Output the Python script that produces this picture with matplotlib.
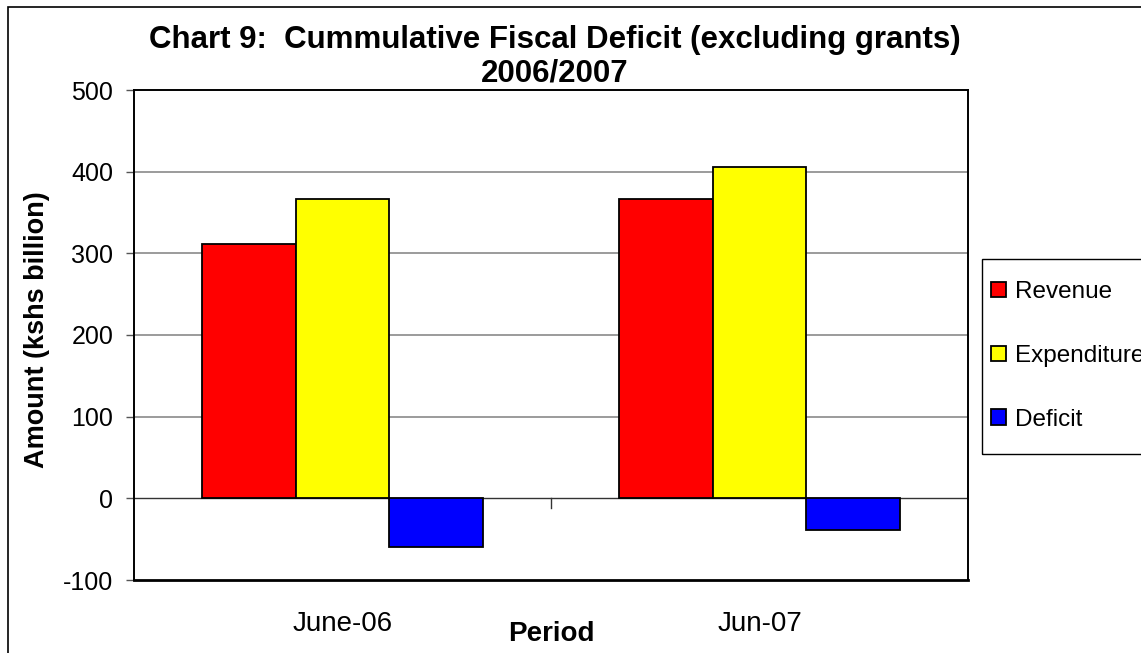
import numpy as np
import matplotlib.pyplot as plt
from matplotlib.patches import Rectangle


# ============================================================
# 1. DATA
# ============================================================

periods = ["June-06", "Jun-07"]
series_names = ["Revenue", "Expenditure", "Deficit"]
revenue = [311, 367]
expenditure = [367, 406]
deficit = [-59, -39]

colors = ["#FF0000", "#FFFF00", "#0000FF"]
y_ticks = [-100, 0, 100, 200, 300, 400, 500]

plt.rcParams["font.family"] = ["Liberation Sans", "DejaVu Sans"]
plt.rcParams["axes.unicode_minus"] = False


# ============================================================
# 2. FIGURE
# ============================================================

W, H = 1141, 653
fig = plt.figure(figsize=(W / 100, H / 100), dpi=100)
ax = fig.add_axes([134 / W, 1 - 580 / H, 834 / W, 490 / H])

# outer chart frame (cut off at right/bottom like the original)
fig.patches.append(Rectangle((8 / W, -0.05), 1.1, 1 - 7 / H + 0.05,
                             transform=fig.transFigure, fill=False,
                             edgecolor="black", linewidth=1.2))

x = np.arange(len(periods))
width = 0.224

for i, (vals, name) in enumerate(zip([revenue, expenditure, deficit], series_names)):
    ax.bar(x + (i - 1) * width, vals, width, color=colors[i],
           edgecolor="black", linewidth=1.3, label=name, zorder=3)

ax.set_xlim(-0.5, len(periods) - 0.5)
ax.set_ylim(-100, 500)
ax.set_yticks(y_ticks)
ax.tick_params(axis="y", labelsize=18, length=6, width=1, color="#555555", pad=9)
ax.set_xticks(x)
ax.set_xticklabels(periods, fontsize=20)
ax.tick_params(axis="x", length=0, pad=22)

for val in y_ticks[2:-1]:
    ax.axhline(val, color="#808080", linewidth=1.1, zorder=1)
ax.axhline(0, color="#333333", linewidth=1.0, zorder=2)
ax.plot([0.5, 0.5], [0, -12], color="#333333", linewidth=1.0, zorder=2)

for side in ["left", "right", "top"]:
    ax.spines[side].set_linewidth(1.4)
ax.spines["bottom"].set_linewidth(2.0)

ax.set_ylabel("Amount (kshs billion)", fontsize=19.5, fontweight="bold")
ax.yaxis.set_label_coords(-0.101, 0.51)
ax.set_xlabel("Period", fontsize=20, fontweight="bold")
ax.xaxis.set_label_coords(0.5, -0.084)

fig.text(555 / W, 1 - 40 / H, "Chart 9:  Cummulative Fiscal Deficit (excluding grants)",
         ha="center", va="center", fontsize=22.5, fontweight="bold")
fig.text(555 / W, 1 - 74 / H, "2006/2007",
         ha="center", va="center", fontsize=22.5, fontweight="bold")

# legend box drawn separately so it runs off the right edge
fig.patches.append(Rectangle((982 / W, 1 - 454 / H), 0.2, 195 / H,
                             transform=fig.transFigure, fill=False,
                             edgecolor="black", linewidth=1.0))
fig.legend(loc="upper left", bbox_to_anchor=(991 / W, 1 - 281 / H),
           fontsize=17.5, frameon=False,
           handlelength=0.6, handleheight=0.6, handletextpad=0.37,
           labelspacing=1.72, borderpad=0, borderaxespad=0)

plt.savefig("out.png", dpi=100)
